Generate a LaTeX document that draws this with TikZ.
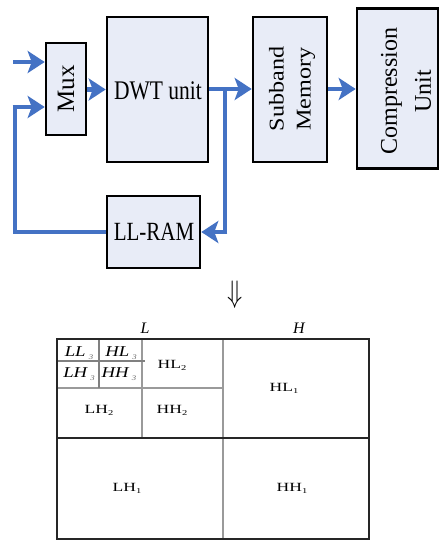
\documentclass[tikz,border=0pt]{standalone}
\usepackage{fontspec}
\setmainfont{Liberation Serif}
\usetikzlibrary{arrows.meta}

\definecolor{flowblue}{HTML}{4472C4}
\definecolor{boxfill}{HTML}{E8ECF7}
\definecolor{gridgray}{HTML}{9A9A9A}

\tikzset{
  unitbox/.style={draw=black, line width=2.6pt, fill=boxfill, inner sep=0pt},
  flow/.style={draw=flowblue, line width=4.8pt,
    -{Stealth[length=17pt,width=22pt,inset=4pt]}},
  flowline/.style={draw=flowblue, line width=4.8pt},
  outerline/.style={draw=black!85, line width=1.4pt},
  innerline/.style={draw=gridgray, line width=1.6pt},
  finelabel/.style={inner sep=0pt, xscale=1.4, font=\fontsize{12.5}{12.5}\selectfont},
  coarselabel/.style={inner sep=0pt, xscale=1.25, font=\fontsize{15}{15}\selectfont\itshape},
  sidelabel/.style={inner sep=0pt, font=\fontsize{16}{16}\selectfont\itshape},
}

\newcommand{\subidx}[1]{\,{\fontsize{7}{7}\selectfont\raisebox{-2.5pt}{\textcolor{black!60}{#1}}}}
\newcommand{\lowsub}[1]{{\fontsize{7.5}{7.5}\selectfont\raisebox{-2pt}{#1}}}

\begin{document}
\begin{tikzpicture}[x=1pt, y=-1pt]
  \useasboundingbox (0,0) rectangle (439,541);

  % processing units
  \node[unitbox, minimum width=40pt, minimum height=92pt] (mux) at (66,89) {};
  \node[unitbox, minimum width=101pt, minimum height=145pt] (dwt) at (157.5,89.5) {};
  \node[unitbox, minimum width=93pt, minimum height=72pt] (ram) at (153.5,232) {};
  \node[unitbox, minimum width=74pt, minimum height=145pt] (sub) at (290,89.5) {};
  \node[unitbox, minimum width=81pt, minimum height=160pt] (comp) at (397.5,88.5) {};

  \node[rotate=90, inner sep=0pt, font=\fontsize{25}{25}\selectfont] (muxt) at (66,89) {Mux};
  \node[yscale=1.25, inner sep=0pt, font=\fontsize{21.5}{21.5}\selectfont] (dwtt) at (158,91) {DWT unit};
  \node[yscale=1.25, inner sep=0pt, font=\fontsize{21}{21}\selectfont] (ramt) at (154,232) {LL-RAM};
  \node[rotate=90, xscale=1.15, inner sep=0pt, align=center,
        font=\fontsize{21}{27}\selectfont] (subt) at (292,89) {Subband\\Memory};
  \node[rotate=90, inner sep=0pt, align=center,
        font=\fontsize{24}{34}\selectfont] (compt) at (406,91) {Compression\\Unit};

  % data flow
  \coordinate (input) at (13,62);
  \coordinate (branch) at (225,89);
  \coordinate (loopdown) at (15,232);
  \coordinate (loopup) at (15,107);

  \draw[flow] (input) -- (mux.west |- input);
  \draw[flow] (mux.east |- dwt.east) -- (dwt.east -| dwt.west);
  \draw[flow] (dwt.east |- branch) -- (sub.west |- branch);
  \draw[flow] (sub.east |- branch) -- (comp.west |- branch);
  \draw[flowline] (branch) -- (branch |- ram.east);
  \draw[flow] ([xshift=2.4pt]branch |- ram.east) -- (ram.east);
  \draw[flowline] (ram.west) -- (loopdown) -- (loopup);
  \draw[flow] ([xshift=-2.4pt]loopup) -- (mux.west |- loopup);

  % decomposition step
  \node[inner sep=0pt, yscale=1.25, font=\fontsize{25}{25}\selectfont] (step) at (235,295) {$\Downarrow$};

  % three-level subband layout
  \coordinate (g0) at (57,339);
  \coordinate (g1) at (369,539);
  \draw[innerline] (223,339) -- (223,539);
  \draw[innerline] (142,339) -- (142,438);
  \draw[innerline] (57,388) -- (223,388);
  \draw[draw=gray, line width=1.3pt] (99,339) -- (99,388);
  \draw[draw=gray, line width=1.3pt] (57,361) -- (145,361);
  \draw[outerline] (57,438) -- (369,438);
  \draw[outerline] (g0) rectangle (g1);

  \node[sidelabel] (lbl) at (145,328) {L};
  \node[sidelabel] (hbl) at (299,328) {H};

  \node[coarselabel] (ll3) at (79,353) {LL\subidx{3}};
  \node[coarselabel] (hl3) at (121,353) {HL\subidx{3}};
  \node[coarselabel] (lh3) at (79,374) {LH\subidx{3}};
  \node[coarselabel] (hh3) at (119,374) {HH\subidx{3}};

  \node[finelabel] (hl2) at (172,365) {HL\lowsub{2}};
  \node[finelabel] (lh2) at (99,410) {LH\lowsub{2}};
  \node[finelabel] (hh2) at (172,410) {HH\lowsub{2}};
  \node[finelabel] (hl1) at (284,388) {HL\lowsub{1}};
  \node[finelabel] (lh1) at (127,488) {LH\lowsub{1}};
  \node[finelabel] (hh1) at (292,488) {HH\lowsub{1}};
\end{tikzpicture}
\end{document}
